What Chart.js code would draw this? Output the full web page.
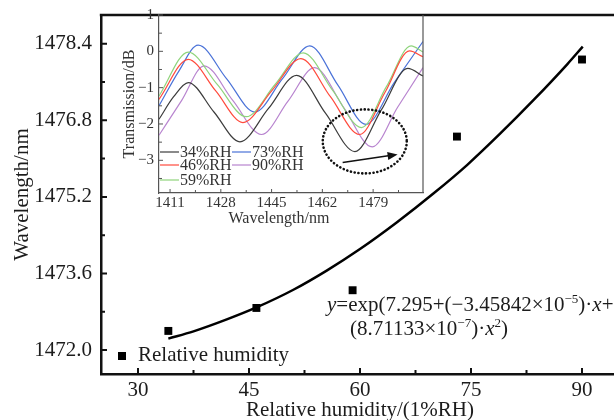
<!DOCTYPE html>
<html>
<head>
<meta charset="utf-8">
<script src="https://cdn.jsdelivr.net/npm/chart.js@4"></script>
<style>
  html, body { margin: 0; padding: 0; background: #fff; overflow: hidden; width: 614px; height: 420px; }
  #wrap { position: relative; width: 640px; height: 430px; }
  #mainChart { position: absolute; left: 0; top: 0; }
  #insetChart { position: absolute; left: 112px; top: 5px; }
</style>
</head>
<body>
<div id="wrap">
  <canvas id="mainChart" width="640" height="430"></canvas>
  <canvas id="insetChart" width="319" height="224"></canvas>
</div>
<script>
// main chart: measured wavelength vs relative humidity
var humidity = [34.1, 46.0, 59.0, 73.1, 90.0];
var wavelength = [1472.40, 1472.88, 1473.25, 1476.46, 1478.07];
// fitted curve
var fitX = [34.1, 37.5, 42, 46, 51, 55.5, 60, 65, 70, 74.5, 79, 83.5, 88, 90.1];
var fitY = [1472.24, 1472.39, 1472.64, 1472.89, 1473.26, 1473.66, 1474.11, 1474.67, 1475.28, 1475.87, 1476.53, 1477.23, 1477.97, 1478.34];
var xTicks = [30, 45, 60, 75, 90];
var xMinor = [37.5, 52.5, 67.5, 82.5];
var yTicks = [1472.0, 1473.6, 1475.2, 1476.8, 1478.4];
var yMinor = [1472.8, 1474.4, 1476.0, 1477.6];

// inset: transmission spectra
var rhLabels = ['34%RH', '46%RH', '59%RH', '73%RH', '90%RH'];
var rhColors = ['#3c3c3c', '#ff4a3c', '#8fd47c', '#4a72d8', '#b884cf'];
var lam34 = [1407.3, 1412.2, 1417.1, 1425.7, 1434.4, 1443.9, 1453.4, 1463.1, 1472.9, 1481.7, 1490.6, 1495.7];
var t34   = [-1.87, -1.25, -0.86, -1.67, -2.49, -1.58, -0.66, -1.71, -2.76, -1.62, -0.47, -0.68];
var lam46 = [1407.3, 1417.1, 1426.3, 1435.4, 1445.1, 1454.8, 1464.7, 1474.5, 1482.9, 1491.2, 1495.7];
var t46   = [-1.32, -0.22, -1.09, -1.96, -1.08, -0.20, -1.25, -2.29, -1.14, 0.01, -0.15];
var lam59 = [1407.3, 1417.1, 1426.8, 1436.5, 1446.1, 1455.6, 1465.4, 1475.1, 1483.4, 1491.7, 1495.7];
var t59   = [-1.23, -0.02, -0.91, -1.80, -0.92, -0.04, -1.07, -2.10, -0.98, 0.15, -0.02];
var lam73 = [1407.3, 1413.9, 1420.4, 1429.9, 1439.4, 1448.6, 1457.8, 1467.2, 1476.6, 1486.0, 1495.7];
var t73   = [-1.50, -0.55, 0.17, -0.75, -1.67, -0.76, 0.15, -0.93, -2.01, -0.87, 0.27];
var lam90 = [1407.3, 1414.9, 1422.4, 1432.0, 1441.6, 1450.5, 1459.4, 1469.1, 1478.7, 1487.2, 1495.7];
var t90   = [-2.31, -1.35, -0.40, -1.35, -2.29, -1.37, -0.45, -1.54, -2.63, -1.54, -0.45];
var insetXTicks = [1411, 1428, 1445, 1462, 1479];
var insetXMinor = [1419.5, 1436.5, 1453.5, 1470.5, 1487.5];
var insetYTicks = [-3, -2, -1, 0, 1];
var insetYMinor = [-3.5, -2.5, -1.5, -0.5, 0.5];

var SERIF = '"Liberation Serif", "Times New Roman", serif';
var TXT = '#1c1c1c';

function pairs(xs, ys) {
    return xs.map(function (x, i) { return {x: x, y: ys[i]}; });
}

function inwardTicks(ctx, chart, axis, values, len) {
    var s = chart.scales[axis];
    var a = chart.chartArea;
    ctx.beginPath();
    values.forEach(function (v) {
        var p = s.getPixelForValue(v);
        if (axis == 'x') { ctx.moveTo(p, a.bottom); ctx.lineTo(p, a.bottom - len); }
        else { ctx.moveTo(a.left, p); ctx.lineTo(a.left + len, p); }
    });
    ctx.stroke();
}

// draw a run of text pieces: normal, italic or superscript
function drawRuns(ctx, x, y, runs, size) {
    runs.forEach(function (r) {
        var fs = r.sup ? Math.round(size * 0.62) : size;
        ctx.font = (r.it ? 'italic ' : '') + fs + 'px ' + SERIF;
        ctx.fillText(r.t, x, r.sup ? y - size * 0.38 : y);
        x += ctx.measureText(r.t).width;
    });
}

var mainDecor = {
    id: 'mainDecor',
    afterDraw: function (chart) {
        var ctx = chart.ctx, a = chart.chartArea;
        ctx.save();
        ctx.strokeStyle = '#111';
        ctx.lineWidth = 2.5;
        ctx.beginPath();
        ctx.moveTo(a.left - 1.2, a.top);
        ctx.lineTo(a.right, a.top);
        ctx.lineTo(a.right, a.bottom);
        ctx.stroke();
        ctx.lineWidth = 2;
        inwardTicks(ctx, chart, 'x', xTicks, 6);
        inwardTicks(ctx, chart, 'x', xMinor, 4);
        inwardTicks(ctx, chart, 'y', yTicks, 6);
        inwardTicks(ctx, chart, 'y', yMinor, 4);

        // legend
        ctx.fillStyle = '#000';
        ctx.fillRect(118, 352, 8, 8);
        ctx.fillStyle = TXT;
        ctx.textBaseline = 'alphabetic';
        ctx.textAlign = 'left';
        ctx.font = '21px ' + SERIF;
        ctx.fillText('Relative humidity', 138, 361);

        // fit equation
        drawRuns(ctx, 327, 311, [
            {t: 'y', it: true}, {t: '=exp(7.295+(\u22123.45842\u00d710'}, {t: '\u22125', sup: true},
            {t: ')\u00b7'}, {t: 'x', it: true}, {t: '+'}
        ], 21);
        drawRuns(ctx, 350, 335, [
            {t: '(8.71133\u00d710'}, {t: '\u22127', sup: true}, {t: ')\u00b7'},
            {t: 'x', it: true}, {t: '2', sup: true}, {t: ')'}
        ], 21);
        ctx.restore();
    }
};

var mainChart = new Chart(document.getElementById('mainChart').getContext('2d'), {
    type: 'line',
    data: {
        datasets: [
            {
                label: 'Fit',
                data: pairs(fitX, fitY),
                borderColor: '#000',
                borderWidth: 2.5,
                pointRadius: 0,
                cubicInterpolationMode: 'monotone',
                fill: false
            },
            {
                label: 'Relative humidity',
                data: pairs(humidity, wavelength),
                showLine: false,
                pointStyle: 'rect',
                pointRadius: 5.6,
                pointBackgroundColor: '#000',
                pointBorderWidth: 0,
                borderColor: '#000'
            }
        ]
    },
    options: {
        responsive: false,
        animation: false,
        devicePixelRatio: 1,
        layout: { padding: { top: 15, right: 21, left: 0, bottom: 0 } },
        plugins: { legend: { display: false }, tooltip: { enabled: false } },
        scales: {
            x: {
                type: 'linear',
                min: 25, max: 95,
                afterBuildTicks: function (s) { s.ticks = xTicks.map(function (v) { return {value: v}; }); },
                afterFit: function (s) { s.height = 56; s.paddingLeft = 0; s.paddingRight = 0; },
                grid: { display: false, drawTicks: false },
                border: { display: true, color: '#111', width: 2.5 },
                ticks: { color: TXT, font: { family: SERIF, size: 21 }, padding: 4, maxRotation: 0, autoSkip: false,
                         callback: function (v) { return String(v); } },
                title: { display: true, text: 'Relative humidity/(1%RH)', color: TXT,
                         font: { family: SERIF, size: 21 }, padding: { top: 0, bottom: 7 } }
            },
            y: {
                min: 1471.5, max: 1479.0,
                afterBuildTicks: function (s) { s.ticks = yTicks.map(function (v) { return {value: v}; }); },
                afterFit: function (s) { s.width = 101; s.paddingTop = 0; s.paddingBottom = 0; },
                grid: { display: false, drawTicks: false },
                border: { display: true, color: '#111', width: 2.5 },
                ticks: { color: TXT, font: { family: SERIF, size: 21 }, padding: 9,
                         callback: function (v) { return Number(v).toFixed(1); } },
                title: { display: true, text: 'Wavelength/nm', color: TXT,
                         font: { family: SERIF, size: 21 }, padding: { top: 10, bottom: 0 } }
            }
        }
    },
    plugins: [mainDecor]
});

var insetDecor = {
    id: 'insetDecor',
    afterDraw: function (chart) {
        var ctx = chart.ctx, a = chart.chartArea;
        ctx.save();
        ctx.strokeStyle = '#555';
        ctx.lineWidth = 1.2;
        ctx.beginPath();
        ctx.moveTo(a.right, a.top);
        ctx.lineTo(a.right, a.bottom);
        ctx.stroke();
        ctx.lineWidth = 1;
        inwardTicks(ctx, chart, 'x', insetXTicks, 4);
        inwardTicks(ctx, chart, 'x', insetXMinor, 3);
        inwardTicks(ctx, chart, 'y', insetYTicks, 4);
        inwardTicks(ctx, chart, 'y', insetYMinor, 3);

        // legend, two columns
        var spots = [[48, 147], [48, 160], [48, 175], [120, 147], [120, 160]];
        ctx.font = '16px ' + SERIF;
        ctx.textBaseline = 'middle';
        ctx.textAlign = 'left';
        rhLabels.forEach(function (lab, i) {
            var p = spots[i];
            ctx.strokeStyle = rhColors[i];
            ctx.lineWidth = 1.2;
            ctx.beginPath();
            ctx.moveTo(p[0], p[1]);
            ctx.lineTo(p[0] + 19, p[1]);
            ctx.stroke();
            ctx.fillStyle = '#333';
            ctx.fillText(lab, p[0] + 20, p[1] + 1);
        });

        // dotted ellipse and arrow marking the dip shift
        var xs = chart.scales.x, ys = chart.scales.y;
        var cx = xs.getPixelForValue(1476.2), cy = ys.getPixelForValue(-2.48);
        ctx.strokeStyle = '#111';
        ctx.lineWidth = 2.6;
        ctx.lineCap = 'round';
        ctx.setLineDash([0.1, 3.7]);
        ctx.beginPath();
        ctx.ellipse(cx, cy, 42, 32, 0, 0, Math.PI * 2);
        ctx.stroke();
        ctx.setLineDash([]);
        ctx.lineCap = 'butt';
        var x1 = xs.getPixelForValue(1468.8), y1 = ys.getPixelForValue(-3.06);
        var x2 = xs.getPixelForValue(1487.2), y2 = ys.getPixelForValue(-2.84);
        ctx.lineWidth = 1.6;
        ctx.beginPath();
        ctx.moveTo(x1, y1);
        ctx.lineTo(x2 - 6, y2 + 0.8);
        ctx.stroke();
        var ang = Math.atan2(y2 - y1, x2 - x1);
        ctx.fillStyle = '#111';
        ctx.beginPath();
        ctx.moveTo(x2, y2);
        ctx.lineTo(x2 - 10 * Math.cos(ang) + 4 * Math.sin(ang), y2 - 10 * Math.sin(ang) - 4 * Math.cos(ang));
        ctx.lineTo(x2 - 10 * Math.cos(ang) - 4 * Math.sin(ang), y2 - 10 * Math.sin(ang) + 4 * Math.cos(ang));
        ctx.closePath();
        ctx.fill();
        ctx.restore();
    }
};

var spectra = [[lam34, t34], [lam46, t46], [lam59, t59], [lam73, t73], [lam90, t90]];
var insetChart = new Chart(document.getElementById('insetChart').getContext('2d'), {
    type: 'line',
    data: {
        datasets: spectra.map(function (s, i) {
            return {
                label: rhLabels[i],
                data: pairs(s[0], s[1]),
                borderColor: rhColors[i],
                borderWidth: 1.2,
                pointRadius: 0,
                cubicInterpolationMode: 'monotone',
                fill: false
            };
        })
    },
    options: {
        responsive: false,
        animation: false,
        devicePixelRatio: 1,
        layout: { padding: { top: 10, right: 8, left: 0, bottom: 0 } },
        plugins: { legend: { display: false }, tooltip: { enabled: false } },
        scales: {
            x: {
                type: 'linear',
                min: 1407.3, max: 1495.7,
                afterBuildTicks: function (s) { s.ticks = insetXTicks.map(function (v) { return {value: v}; }); },
                afterFit: function (s) { s.height = 36; s.paddingLeft = 0; s.paddingRight = 0; },
                grid: { display: false, drawTicks: false },
                border: { display: true, color: '#555', width: 1.2 },
                ticks: { color: '#333', font: { family: SERIF, size: 15 }, padding: 1, maxRotation: 0, autoSkip: false,
                         callback: function (v) { return String(v); } },
                title: { display: true, text: 'Wavelength/nm      ', color: '#333',
                         font: { family: SERIF, size: 16 }, padding: { top: 0, bottom: 1 } }
            },
            y: {
                min: -3.9, max: 1,
                afterBuildTicks: function (s) { s.ticks = insetYTicks.map(function (v) { return {value: v}; }); },
                afterFit: function (s) { s.width = 47; s.paddingTop = 0; s.paddingBottom = 0; },
                grid: { display: false, drawTicks: false },
                border: { display: true, color: '#555', width: 1.2 },
                ticks: { color: '#333', font: { family: SERIF, size: 15 }, padding: 5,
                         callback: function (v) { return v < 0 ? '\u2212' + Math.abs(v) : String(v); } },
                title: { display: true, text: 'Transmission/dB', color: '#333',
                         font: { family: SERIF, size: 16 }, padding: { top: 8, bottom: 0 } }
            }
        }
    },
    plugins: [insetDecor]
});
</script>
</body>
</html>
